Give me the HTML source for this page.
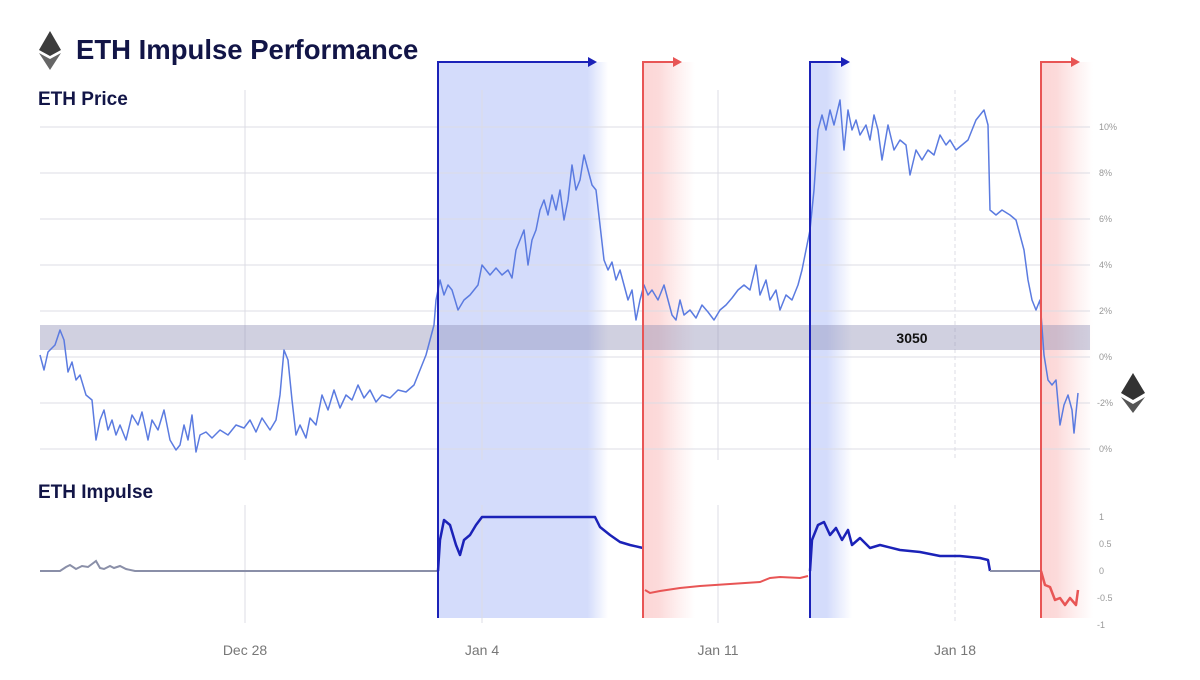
<!DOCTYPE html>
<html><head><meta charset="utf-8"><style>
body{margin:0;background:#fff;width:1200px;height:675px;overflow:hidden;font-family:"Liberation Sans",sans-serif}
</style></head><body>
<svg width="1200" height="675" viewBox="0 0 1200 675" xmlns="http://www.w3.org/2000/svg">
<defs>
<linearGradient id="gb" x1="0" x2="1"><stop offset="0" stop-color="#d4dcfb"/><stop offset="0.88" stop-color="#d4dcfb"/><stop offset="1" stop-color="#d4dcfb" stop-opacity="0"/></linearGradient>
<linearGradient id="gb2" x1="0" x2="1"><stop offset="0" stop-color="#d4dcfb"/><stop offset="0.4" stop-color="#d4dcfb"/><stop offset="1" stop-color="#d4dcfb" stop-opacity="0"/></linearGradient>
<linearGradient id="gr" x1="0" x2="1"><stop offset="0" stop-color="#fcd6d6"/><stop offset="0.3" stop-color="#fcdada"/><stop offset="1" stop-color="#fde0e0" stop-opacity="0"/></linearGradient>
</defs>
<rect x="438" y="62" width="170" height="556" fill="url(#gb)"/>
<rect x="643" y="62" width="52" height="556" fill="url(#gr)"/>
<rect x="810" y="62" width="42" height="556" fill="url(#gb2)"/>
<rect x="1041" y="62" width="52" height="556" fill="url(#gr)"/>
<g stroke="#dcdce4" stroke-width="1">
<line x1="40" y1="127" x2="1090" y2="127"/><line x1="40" y1="173" x2="1090" y2="173"/>
<line x1="40" y1="219" x2="1090" y2="219"/><line x1="40" y1="265" x2="1090" y2="265"/>
<line x1="40" y1="311" x2="1090" y2="311"/><line x1="40" y1="357" x2="1090" y2="357"/>
<line x1="40" y1="403" x2="1090" y2="403"/><line x1="40" y1="449" x2="1090" y2="449"/>
<line x1="245" y1="90" x2="245" y2="460"/><line x1="482" y1="90" x2="482" y2="460"/>
<line x1="718" y1="90" x2="718" y2="460"/><line x1="955" y1="90" x2="955" y2="460" stroke-dasharray="4 3"/>
<line x1="245" y1="505" x2="245" y2="623"/><line x1="482" y1="505" x2="482" y2="623"/>
<line x1="718" y1="505" x2="718" y2="623"/><line x1="955" y1="505" x2="955" y2="623" stroke-dasharray="4 3"/>
</g>
<rect x="40" y="325" width="1050" height="25" fill="#8f90b4" fill-opacity="0.42"/>
<text x="912" y="343" font-size="14" font-weight="bold" text-anchor="middle" fill="#111">3050</text>
<g font-size="9" fill="#999">
<text x="1099" y="130">10%</text><text x="1099" y="176">8%</text><text x="1099" y="222">6%</text>
<text x="1099" y="268">4%</text><text x="1099" y="314">2%</text><text x="1099" y="360">0%</text>
<text x="1097" y="406">-2%</text><text x="1099" y="452">0%</text>
<text x="1099" y="520">1</text><text x="1099" y="547">0.5</text><text x="1099" y="574">0</text>
<text x="1097" y="601">-0.5</text><text x="1097" y="628">-1</text>
</g>
<g font-size="14" fill="#777" text-anchor="middle">
<text x="245" y="655">Dec 28</text><text x="482" y="655">Jan 4</text><text x="718" y="655">Jan 11</text><text x="955" y="655">Jan 18</text>
</g>
<polyline fill="none" stroke="#5b7be0" stroke-width="1.5" stroke-linejoin="round" points="40,355 44,370 48,352 55,345 60,330 64,340 68,372 72,362 76,380 80,375 86,395 92,400 96,440 100,420 104,410 108,430 112,420 116,435 120,425 126,440 132,415 138,425 142,412 148,440 152,420 158,430 164,410 170,440 176,450 180,445 184,425 188,440 192,415 196,452 200,435 206,432 212,438 220,430 228,435 236,425 244,428 250,420 256,432 262,418 270,430 276,420 280,395 284,350 288,360 292,400 296,435 300,425 306,438 310,418 316,425 322,395 328,410 334,390 340,408 346,395 352,400 358,385 364,398 370,390 376,402 382,395 390,398 398,390 406,392 414,385 420,370 426,355 430,340 434,325 436,300 440,280 444,295 448,285 452,290 458,310 464,300 470,295 478,285 482,265 486,270 490,275 496,268 502,275 508,270 512,278 516,250 520,240 524,230 528,265 532,240 536,230 540,210 544,200 548,215 552,195 556,210 560,190 564,220 568,200 572,165 576,190 580,180 584,155 588,170 592,185 596,190 600,225 604,260 608,270 612,262 616,280 620,270 624,285 628,300 632,290 636,320 640,300 644,285 648,295 652,290 658,300 664,285 668,300 672,315 676,320 680,300 684,315 690,310 696,318 702,305 708,312 714,320 720,310 726,305 732,298 738,290 744,285 750,290 756,265 760,295 766,280 770,300 776,290 780,310 786,295 792,300 798,285 802,270 806,250 810,230 814,190 818,130 822,115 826,130 830,110 834,125 840,100 844,150 848,110 852,130 856,120 860,135 866,125 870,140 874,115 878,130 882,160 888,125 894,150 900,140 906,145 910,175 916,150 922,160 928,150 934,155 940,135 946,145 950,140 956,150 962,145 968,140 972,130 976,120 980,115 984,110 988,125 990,210 996,215 1002,210 1010,215 1016,220 1020,235 1024,250 1028,280 1032,300 1036,310 1040,300 1044,355 1048,380 1052,385 1056,380 1060,425 1064,405 1068,395 1072,410 1074,433 1078,393"/>
<polyline fill="none" stroke="#8a8fa8" stroke-width="2" points="40,571 60,571 66,567 70,565 76,569 82,566 88,567 92,564 96,561 100,568 104,569 110,566 114,568 120,566 126,569 135,571 438,571"/>
<polyline fill="none" stroke="#1b22b8" stroke-width="2.5" stroke-linejoin="round" points="438,571 440,540 444,520 450,525 456,545 460,555 464,540 470,535 476,525 482,517 595,517 600,527 610,535 620,542 630,545 643,548"/>
<polyline fill="none" stroke="#e85555" stroke-width="2" points="645,590 650,593 660,591 680,588 700,586 730,584 760,582 770,578 780,577 800,578 808,576"/>
<polyline fill="none" stroke="#1b22b8" stroke-width="2.5" stroke-linejoin="round" points="810,571 812,540 818,525 824,522 830,535 836,528 842,540 848,530 852,545 860,538 870,548 880,545 900,550 920,552 940,556 960,556 980,558 988,560 990,571"/>
<polyline fill="none" stroke="#8a8fa8" stroke-width="2" points="990,571 1041,571"/>
<polyline fill="none" stroke="#e85555" stroke-width="2.5" stroke-linejoin="round" points="1041,571 1045,585 1050,587 1055,600 1060,598 1065,605 1070,598 1076,605 1078,590"/>
<g stroke-width="2" fill="none">
<polyline points="438,618 438,62 590,62" stroke="#1b22b8"/>
<polyline points="643,618 643,62 675,62" stroke="#e85555"/>
<polyline points="810,618 810,62 843,62" stroke="#1b22b8"/>
<polyline points="1041,618 1041,62 1073,62" stroke="#e85555"/>
</g>
<polygon points="588,57 597,62 588,67" fill="#1b22b8"/>
<polygon points="673,57 682,62 673,67" fill="#e85555"/>
<polygon points="841,57 850,62 841,67" fill="#1b22b8"/>
<polygon points="1071,57 1080,62 1071,67" fill="#e85555"/>
<g fill="#3c3c3c">
<polygon points="50,31 39,50 50,56 61,50"/><polygon points="39,53 50,70 61,53 50,59" fill="#666"/>
</g>
<text x="76" y="59" font-size="27.5" font-weight="bold" fill="#121547">ETH Impulse Performance</text>
<text x="38" y="105" font-size="19" font-weight="bold" fill="#121547">ETH Price</text>
<text x="38" y="498" font-size="19" font-weight="bold" fill="#121547">ETH Impulse</text>
<g fill="#333">
<polygon points="1133,373 1121,393 1133,400 1145,393"/><polygon points="1121,397 1133,413 1145,397 1133,404" fill="#555"/>
</g>
</svg>
</body></html>
